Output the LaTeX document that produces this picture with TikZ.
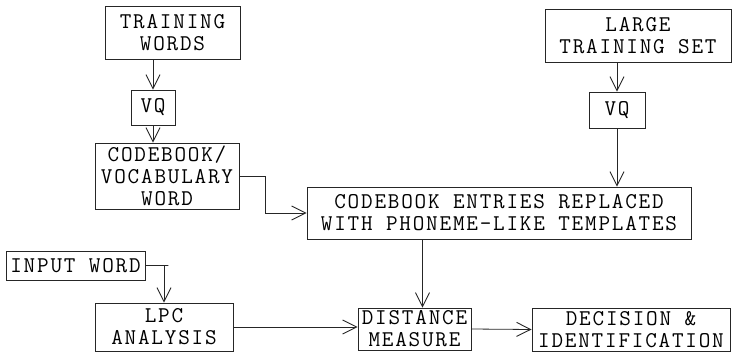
\documentclass[tikz,border=0pt]{standalone}
\usepackage{fontspec}
\newfontfamily\typewr{Latin Modern Mono}[LetterSpace=8]
\usetikzlibrary{arrows.meta}

\begin{document}
\begin{tikzpicture}[
  x=1pt, y=-1pt,
  every node/.style={align=center},
  flow/.style={-{Straight Barb[length=14pt,width=14pt,line width=0.9pt]}, draw=black!85, line width=0.8pt},
  box/.style={draw=black!85, line width=0.9pt, inner sep=0pt, text=black,
              font=\fontsize{22.5}{22}\typewr},
]
\useasboundingbox (0,0) rectangle (732,354);

% ---------- word training branch ----------
\node[box, minimum width=135pt, minimum height=53pt] (trainw) at (172.5,32.5) {TRAINING\\WORDS};
\node[box, minimum width=44pt, minimum height=35pt] (vqA) at (153,107.5) {VQ};
\node[box, minimum width=144pt, minimum height=66pt] (cbook) at (167,176) {CODEBOOK/\\VOCABULARY\\WORD};

% ---------- large set branch ----------
\node[box, minimum width=186pt, minimum height=53pt] (large) at (638,35.5) {LARGE\\TRAINING SET};
\node[box, minimum width=56pt, minimum height=36pt] (vqB) at (617,110) {VQ};

% ---------- merge ----------
\node[box, minimum width=384pt, minimum height=52pt] (entries) at (499,213)
  {CODEBOOK ENTRIES REPLACED\\WITH PHONEME-LIKE TEMPLATES};

% ---------- recognition row ----------
\node[box, minimum width=139pt, minimum height=29pt] (input) at (75.5,265.5) {INPUT WORD};
\node[box, minimum width=138pt, minimum height=48pt] (lpc) at (164,327) {LPC\\ANALYSIS};
\node[box, minimum width=113pt, minimum height=42pt] (dist) at (414.5,329) {DISTANCE\\MEASURE};
\node[box, minimum width=198pt, minimum height=43pt] (decide) at (631,329.5) {DECISION \&\\IDENTIFICATION};

% ---------- arrows ----------
\draw[flow] (vqA.north |- trainw.south) -- (vqA.north);
\draw[flow] (vqA.south) -- (vqA.south |- cbook.north);
\draw[flow] (cbook.east) -- ++(26,0) |- (entries.west);
\draw[flow] (vqB.north |- large.south) -- (vqB.north);
\draw[flow] (vqB.south) -- (vqB.south |- entries.north);
\draw[flow] ([xshift=8pt]dist.north |- entries.south) -- ([xshift=8pt]dist.north);
\draw[flow] (input.east) -- ++(23,0) -| (lpc.north);
\draw[flow] (lpc.east) -- (lpc.east -| dist.west);
\draw[flow] (dist.east) -- (decide.west);

\end{tikzpicture}
\end{document}
